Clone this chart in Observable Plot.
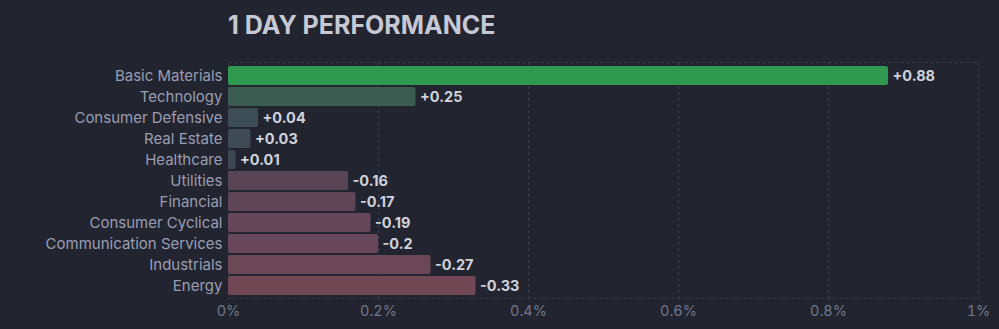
<!DOCTYPE html>
<html>
<head>
<meta charset="utf-8">
<script src="https://cdn.jsdelivr.net/npm/d3@7"></script>
<script src="https://cdn.jsdelivr.net/npm/@observablehq/plot@0.6"></script>
<style>
  html, body { margin: 0; padding: 0; background: #22252f; width: 999px; height: 329px; overflow: hidden; }
  #title { height: 50px; box-sizing: border-box; padding: 10px 0 0 228px; font-family: Inter, "Noto Sans", sans-serif; font-weight: 700; font-size: 25px; color: #c6c8d3; line-height: 30px; }
  svg { display: block; }
</style>
</head>
<body>
<div id="title">1 DAY PERFORMANCE</div>
<div id="chart"></div>
<script>
const sectors = ["Basic Materials", "Technology", "Consumer Defensive", "Real Estate", "Healthcare", "Utilities", "Financial", "Consumer Cyclical", "Communication Services", "Industrials", "Energy"];
const changes = [0.88, 0.25, 0.04, 0.03, 0.01, -0.16, -0.17, -0.19, -0.2, -0.27, -0.33];
const xTicks = [0, 0.2, 0.4, 0.6, 0.8, 1];
const xTickLabels = ["0%", "0.2%", "0.4%", "0.6%", "0.8%", "1%"];

const colorDomain = [-0.33, -0.19, -0.16, 0, 0.04, 0.25, 0.88];
const colorRange = ["#704752", "#66475a", "#5a4555", "#3f4350", "#3d4d55", "#3b5c50", "#2f9a4f"];

const rows = sectors.map((s, i) => ({sector: s, value: changes[i], mag: Math.abs(changes[i])}));
const fmt = v => (v > 0 ? "+" : "") + v;

const chart = Plot.plot({
  width: 999,
  height: 279,
  marginLeft: 228,
  marginRight: 21,
  marginTop: 12,
  marginBottom: 31,
  style: {background: "#22252f", fontFamily: "Inter, 'Noto Sans', sans-serif"},
  x: {domain: [0, 1], ticks: xTicks, tickFormat: (d) => xTickLabels[xTicks.indexOf(d)] ?? "", tickSize: 0, tickPadding: 8, label: null},
  y: {domain: sectors, padding: 0.1, tickSize: 0, tickPadding: 6, label: null},
  color: {type: "linear", domain: colorDomain, range: colorRange, interpolate: "rgb"},
  marks: [
    Plot.ruleX(xTicks.slice(1, -1), {stroke: "#3b3f4d", strokeDasharray: "3,3"}),
    Plot.frame({stroke: "#3b3f4d", strokeDasharray: "3,3"}),
    Plot.barX(rows, {x: "mag", y: "sector", fill: "value", rx: 2}),
    Plot.text(rows, {x: "mag", y: "sector", text: d => fmt(d.value), textAnchor: "start", dx: 4, fill: "#d0d2dc", fontWeight: 700, fontSize: 14.5}),
    Plot.axisX({ticks: xTicks, tickFormat: (d) => xTickLabels[xTicks.indexOf(d)], tickSize: 0, tickPadding: 7, fill: "#717589", fontSize: 14.5, label: null}),
    Plot.axisY({tickSize: 0, tickPadding: 6, fill: "#9a9db3", fontSize: 15, label: null})
  ]
});
document.getElementById("chart").appendChild(chart);
</script>
</body>
</html>
